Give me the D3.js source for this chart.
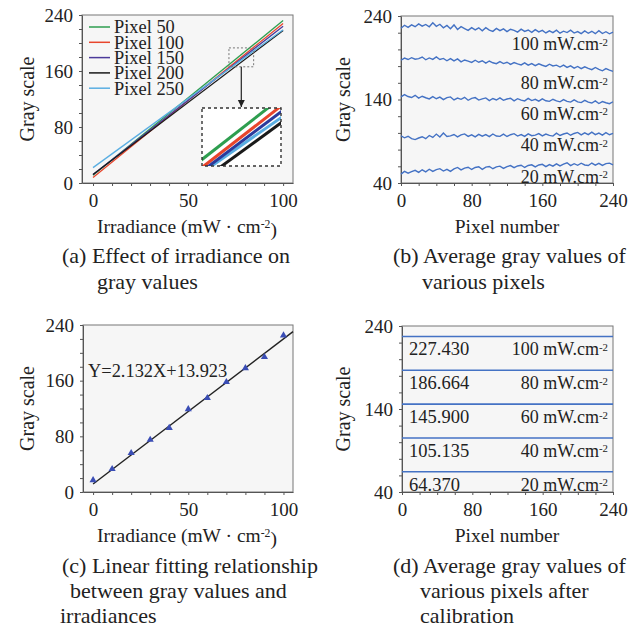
<!DOCTYPE html>
<html>
<head>
<meta charset="utf-8">
<script src="https://cdn.jsdelivr.net/npm/d3@7"></script>
<style>
  body { margin: 0; background: #fff; }
  text { font-family: "Liberation Serif", "Times New Roman", serif; fill: #222; }
</style>
</head>
<body>
<svg width="636" height="630"></svg>
<script>
// ---- data ----
// (a) gray value vs irradiance for several pixels (line end points)
var irradianceEnds = [0, 100];
var pixelNames = ["Pixel 50", "Pixel 100", "Pixel 150", "Pixel 200", "Pixel 250"];
var pixelColors = ["#2e9e4f", "#e8452c", "#4b3a9a", "#1a1a1a", "#5aaee2"];
var pixelAt0 = [11, 8, 12, 12, 22];
var pixelAt100 = [232, 228, 224, 218, 219];
var zoomX = [71.5, 84.5];
var zoomY = [166, 193];

// (b) gray value along the pixel row, one series per irradiance
var pixelIndex = d3.range(0, 241, 4);
var irrLabels = ["100", "80", "60", "40", "20"];
var row100 = [225.4,228.9,226.3,229.4,227.2,230.6,227.8,229.9,227.1,231.8,227.6,230.1,225.9,228.7,224.8,229.3,223.9,227.2,225.0,222.8,226.1,223.4,225.9,222.2,226.0,223.1,221.6,225.2,222.4,224.6,221.3,224.1,222.9,220.7,224.3,221.5,223.2,220.4,223.6,221.0,222.8,219.7,222.3,220.1,223.0,219.4,221.8,220.2,223.1,219.6,221.4,218.9,222.2,219.3,221.7,218.8,222.5,219.0,221.2,218.7,220.6];
var row80 = [187.0,189.6,187.9,190.1,188.2,189.0,190.9,187.6,189.8,188.1,191.0,187.9,189.2,186.4,188.9,186.2,188.6,185.1,187.3,185.9,184.4,187.0,184.6,186.4,183.5,186.1,184.0,182.9,185.4,183.0,184.6,182.1,184.3,182.6,181.4,183.9,181.2,183.0,180.5,182.7,181.0,179.6,182.3,180.2,181.1,178.9,181.2,178.4,180.3,177.6,179.6,176.9,179.2,177.3,175.8,178.4,176.1,174.4,177.0,175.2,173.6];
var row60 = [143.2,145.9,143.6,142.4,145.0,141.6,143.9,142.1,140.7,143.4,140.9,142.8,139.8,142.2,143.1,139.5,141.7,140.2,142.6,139.1,141.4,142.3,139.3,140.8,141.9,138.7,141.2,139.4,142.0,139.0,140.6,141.5,138.4,141.0,139.2,138.3,141.4,138.7,140.2,138.0,140.7,138.5,137.8,140.3,138.4,137.2,139.8,137.7,136.9,139.5,137.2,136.3,139.0,136.8,135.8,138.4,135.2,137.5,136.1,135.0,137.3];
var row40 = [96.3,94.1,96.0,93.2,92.0,93.9,95.4,93.1,96.9,94.6,98.6,95.0,99.8,95.7,96.4,98.1,95.3,97.6,98.8,95.8,97.7,95.2,98.3,96.1,97.9,95.5,98.7,96.3,95.9,98.5,95.7,97.8,99.1,96.2,98.0,95.9,98.9,96.7,97.4,99.2,96.5,98.6,97.0,96.2,99.6,96.9,98.7,99.9,97.2,99.3,100.6,97.7,100.1,98.0,101.0,97.9,99.8,97.4,100.3,97.8,99.4];
var row20 = [50.6,53.9,51.8,53.6,55.2,52.7,55.8,53.4,56.5,53.9,56.1,57.2,54.3,56.4,53.9,56.9,58.6,55.7,57.8,58.9,56.2,58.6,59.4,56.4,59.0,59.8,57.1,59.3,60.2,57.5,59.7,60.9,58.3,60.4,61.3,58.6,61.0,61.8,59.2,61.6,62.4,59.6,62.1,60.2,63.0,60.4,62.6,64.2,60.9,63.1,61.2,63.7,61.6,61.0,63.9,61.4,63.6,61.1,63.2,63.8,61.6];

// (c) measured points and fitted line
var fitX = [0, 10, 20, 30, 40, 50, 60, 70, 80, 90, 100];
var fitY = [17, 33, 56, 75, 92, 119, 135, 158, 178, 194, 225];
var fitLineX = [0, 105];
var fitLineY = [11.5, 230.5];
var fitText = "Y=2.132X+13.923";

// (d) calibrated mean gray values
var calibValues = [227.430, 186.664, 145.900, 105.135, 64.370];

// ---- drawing ----
var svg = d3.select("svg");
var plotBg = "#f6f6f6";

function stext(parent, x, y, size) {
    return parent.append("text").attr("x", x).attr("y", y).attr("font-size", size);
}

function makePanel(o) {
    var g = svg.append("g");
    var x = d3.scaleLinear().domain(o.xDomain).range([o.x0, o.x1]);
    var y = d3.scaleLinear().domain(o.yDomain).range([o.y1, o.y0]);
    g.append("rect")
        .attr("x", o.x0).attr("y", o.y0)
        .attr("width", o.x1 - o.x0).attr("height", o.y1 - o.y0)
        .attr("fill", plotBg).attr("stroke", "#777").attr("stroke-width", 1);

    var fmt = function(list) { return function(d) { return list.indexOf(d) >= 0 ? d : ""; }; };
    var xa = g.append("g")
        .attr("transform", "translate(0," + o.y1 + ")")
        .call(d3.axisBottom(x).tickValues(o.xTicks).tickFormat(fmt(o.xMajor))
            .tickSize(3).tickSizeOuter(0).tickPadding(8));
    var ya = g.append("g")
        .attr("transform", "translate(" + o.x0 + ",0)")
        .call(d3.axisLeft(y).tickValues(o.yTicks).tickFormat(fmt(o.yMajor))
            .tickSize(3).tickSizeOuter(0).tickPadding(6));
    [xa, ya].forEach(function(a) {
        a.attr("font-size", 19).attr("font-family", null);
        a.selectAll("path,line").attr("stroke", "#555");
        a.selectAll("text").attr("fill", "#222");
    });

    // y title
    g.append("text")
        .attr("transform", "translate(" + o.yTitleX + "," + ((o.y0 + o.y1) / 2) + ") rotate(-90)")
        .attr("text-anchor", "middle").attr("dy", "0.35em")
        .attr("font-size", 20).text("Gray scale");
    return { g: g, x: x, y: y };
}

function unitText(sel, before, after) {
    sel.append("tspan").text(before);
    sel.append("tspan").attr("font-size", "0.6em").attr("dy", "-0.42em").text("-2");
    if (after) sel.append("tspan").attr("dy", "0.42em").text(after);
    return sel;
}

var irrTicks = d3.range(0, 101, 10);
var grayTicksA = d3.range(0, 241, 20);
var grayTicksB = d3.range(40, 241, 20);
var pixTicks = d3.range(0, 241, 20);

// (a)
var pa = makePanel({ x0: 82, x1: 293, y0: 15, y1: 183, xDomain: [-5.8, 105.2], yDomain: [0, 240],
    xTicks: irrTicks, xMajor: [0, 50, 100], yTicks: grayTicksA, yMajor: [0, 80, 160, 240], yTitleX: 27 });

var lineRows = pixelNames.map(function(n, i) {
    return { name: n, color: pixelColors[i], pts: [[irradianceEnds[0], pixelAt0[i]], [irradianceEnds[1], pixelAt100[i]]] };
});
var lineA = d3.line().x(function(d) { return pa.x(d[0]); }).y(function(d) { return pa.y(d[1]); });
pa.g.selectAll(".pl").data(lineRows).enter().append("path")
    .attr("d", function(d) { return lineA(d.pts); })
    .attr("fill", "none").attr("stroke", function(d) { return d.color; }).attr("stroke-width", 1.3);

// legend
var leg = pa.g.selectAll(".leg").data(lineRows).enter().append("g")
    .attr("transform", function(d, i) { return "translate(89," + (27 + i * 15.3) + ")"; });
leg.append("line").attr("x1", 0).attr("x2", 21).attr("stroke", function(d) { return d.color; }).attr("stroke-width", 1.5);
leg.append("text").attr("x", 25).attr("dy", "0.35em")
    .attr("font-size", 18.4).text(function(d) { return d.name; });

// zoom window + inset
var zx0 = pa.x(zoomX[0]), zx1 = pa.x(zoomX[1]), zy0 = pa.y(zoomY[1]), zy1 = pa.y(zoomY[0]);
pa.g.append("rect").attr("x", zx0).attr("y", zy0).attr("width", zx1 - zx0).attr("height", zy1 - zy0)
    .attr("fill", "none").attr("stroke", "#777").attr("stroke-dasharray", "2,2");
var inset = { x0: 202, x1: 281, y0: 108, y1: 166 };
var ix = d3.scaleLinear().domain(zoomX).range([inset.x0, inset.x1]);
var iy = d3.scaleLinear().domain(zoomY).range([inset.y1, inset.y0]);
var defs = svg.append("defs");
defs.append("clipPath").attr("id", "insetClip").append("rect")
    .attr("x", inset.x0).attr("y", inset.y0).attr("width", inset.x1 - inset.x0).attr("height", inset.y1 - inset.y0);
defs.append("marker").attr("id", "arr").attr("viewBox", "0 0 10 10")
    .attr("refX", 10).attr("refY", 5).attr("markerWidth", 6).attr("markerHeight", 8).attr("orient", "auto")
    .append("path").attr("d", "M0,0L10,5L0,10z").attr("fill", "#222");
pa.g.append("line").attr("x1", (zx0 + zx1) / 2).attr("x2", (zx0 + zx1) / 2)
    .attr("y1", zy1).attr("y2", inset.y0 - 1).attr("stroke", "#222").attr("stroke-width", 1.2)
    .attr("marker-end", "url(#arr)");
pa.g.append("rect").attr("x", inset.x0).attr("y", inset.y0).attr("width", inset.x1 - inset.x0)
    .attr("height", inset.y1 - inset.y0).attr("fill", "#fff");
var lineI = d3.line().x(function(d) { return ix(d[0]); }).y(function(d) { return iy(d[1]); });
var insetOrder = [4, 0, 1, 2, 3];
pa.g.append("g").attr("clip-path", "url(#insetClip)").selectAll("path")
    .data(insetOrder.map(function(i) { return lineRows[i]; })).enter().append("path")
    .attr("d", function(d) { return lineI(d.pts); })
    .attr("fill", "none").attr("stroke", function(d) { return d.color === "#4b3a9a" ? "#2b3a9c" : d.color; })
    .attr("stroke-width", 3);
pa.g.append("rect").attr("x", inset.x0).attr("y", inset.y0).attr("width", inset.x1 - inset.x0)
    .attr("height", inset.y1 - inset.y0).attr("fill", "none").attr("stroke", "#333")
    .attr("stroke-width", 1.4).attr("stroke-dasharray", "3,3");

unitText(stext(svg, 187, 233, 19.5).attr("text-anchor", "middle"), "Irradiance (mW · cm", ")");

// (b)
var pb = makePanel({ x0: 401, x1: 613, y0: 16, y1: 183, xDomain: [0, 240], yDomain: [40, 240],
    xTicks: pixTicks, xMajor: [0, 80, 160, 240], yTicks: grayTicksB, yMajor: [40, 140, 240], yTitleX: 343 });
var rows = [row100, row80, row60, row40, row20];
var lineB = d3.line().x(function(d, i) { return pb.x(pixelIndex[i]); }).y(function(d) { return pb.y(d); });
pb.g.selectAll(".row").data(rows).enter().append("path")
    .attr("d", lineB).attr("fill", "none").attr("stroke", "#4472c4").attr("stroke-width", 1.4);
rows.forEach(function(r, i) {
    unitText(stext(pb.g, 608, pb.y(r[r.length - 1]) + 18, 18).attr("text-anchor", "end"), irrLabels[i] + " mW.cm");
});
stext(svg, 507, 233, 19.5).attr("text-anchor", "middle").text("Pixel number");

// (c)
var pc = makePanel({ x0: 83, x1: 293, y0: 325, y1: 492, xDomain: [-5.3, 105], yDomain: [0, 240],
    xTicks: irrTicks, xMajor: [0, 50, 100], yTicks: grayTicksA, yMajor: [0, 80, 160, 240], yTitleX: 27 });
pc.g.append("path")
    .attr("d", d3.line().x(function(d) { return pc.x(d); }).y(function(d, i) { return pc.y(fitLineY[i]); })(fitLineX))
    .attr("stroke", "#222").attr("stroke-width", 1.4).attr("fill", "none");
pc.g.selectAll(".pt").data(fitX).enter().append("path")
    .attr("transform", function(d, i) { return "translate(" + pc.x(d) + "," + pc.y(fitY[i]) + ")"; })
    .attr("d", d3.symbol().type(d3.symbolTriangle).size(22))
    .attr("fill", "#3a4db5");
stext(pc.g, 88, 377, 18.4).text(fitText);
unitText(stext(svg, 187, 542, 19.5).attr("text-anchor", "middle"), "Irradiance (mW · cm", ")");

// (d)
var pd = makePanel({ x0: 402, x1: 613, y0: 326, y1: 492, xDomain: [0, 240], yDomain: [40, 240],
    xTicks: pixTicks, xMajor: [0, 80, 160, 240], yTicks: grayTicksB, yMajor: [40, 140, 240], yTitleX: 343 });
pd.g.selectAll(".cal").data(calibValues).enter().append("line")
    .attr("x1", pd.x(0)).attr("x2", pd.x(240))
    .attr("y1", function(d) { return pd.y(d); }).attr("y2", function(d) { return pd.y(d); })
    .attr("stroke", "#4472c4").attr("stroke-width", 1.6);
calibValues.forEach(function(v, i) {
    stext(pd.g, 409, pd.y(v) + 19, 18.5).text(v.toFixed(3));
    unitText(stext(pd.g, 608, pd.y(v) + 19, 18).attr("text-anchor", "end"), irrLabels[i] + " mW.cm");
});
stext(svg, 507, 542, 19.5).attr("text-anchor", "middle").text("Pixel number");

// captions
var captions = [
    { x: 62, y: 263, t: "(a) Effect of irradiance on" }, { x: 97, y: 289, t: "gray values" },
    { x: 393, y: 263, t: "(b) Average gray values of" }, { x: 422, y: 289, t: "various pixels" },
    { x: 62, y: 573, t: "(c) Linear fitting relationship" }, { x: 70, y: 598, t: "between gray values and" },
    { x: 60, y: 623, t: "irradiances" },
    { x: 393, y: 573, t: "(d) Average gray values of" }, { x: 420, y: 598, t: "various pixels after" },
    { x: 420, y: 623, t: "calibration" }
];
captions.forEach(function(c) { stext(svg, c.x, c.y, 22).text(c.t); });
</script>
</body>
</html>
